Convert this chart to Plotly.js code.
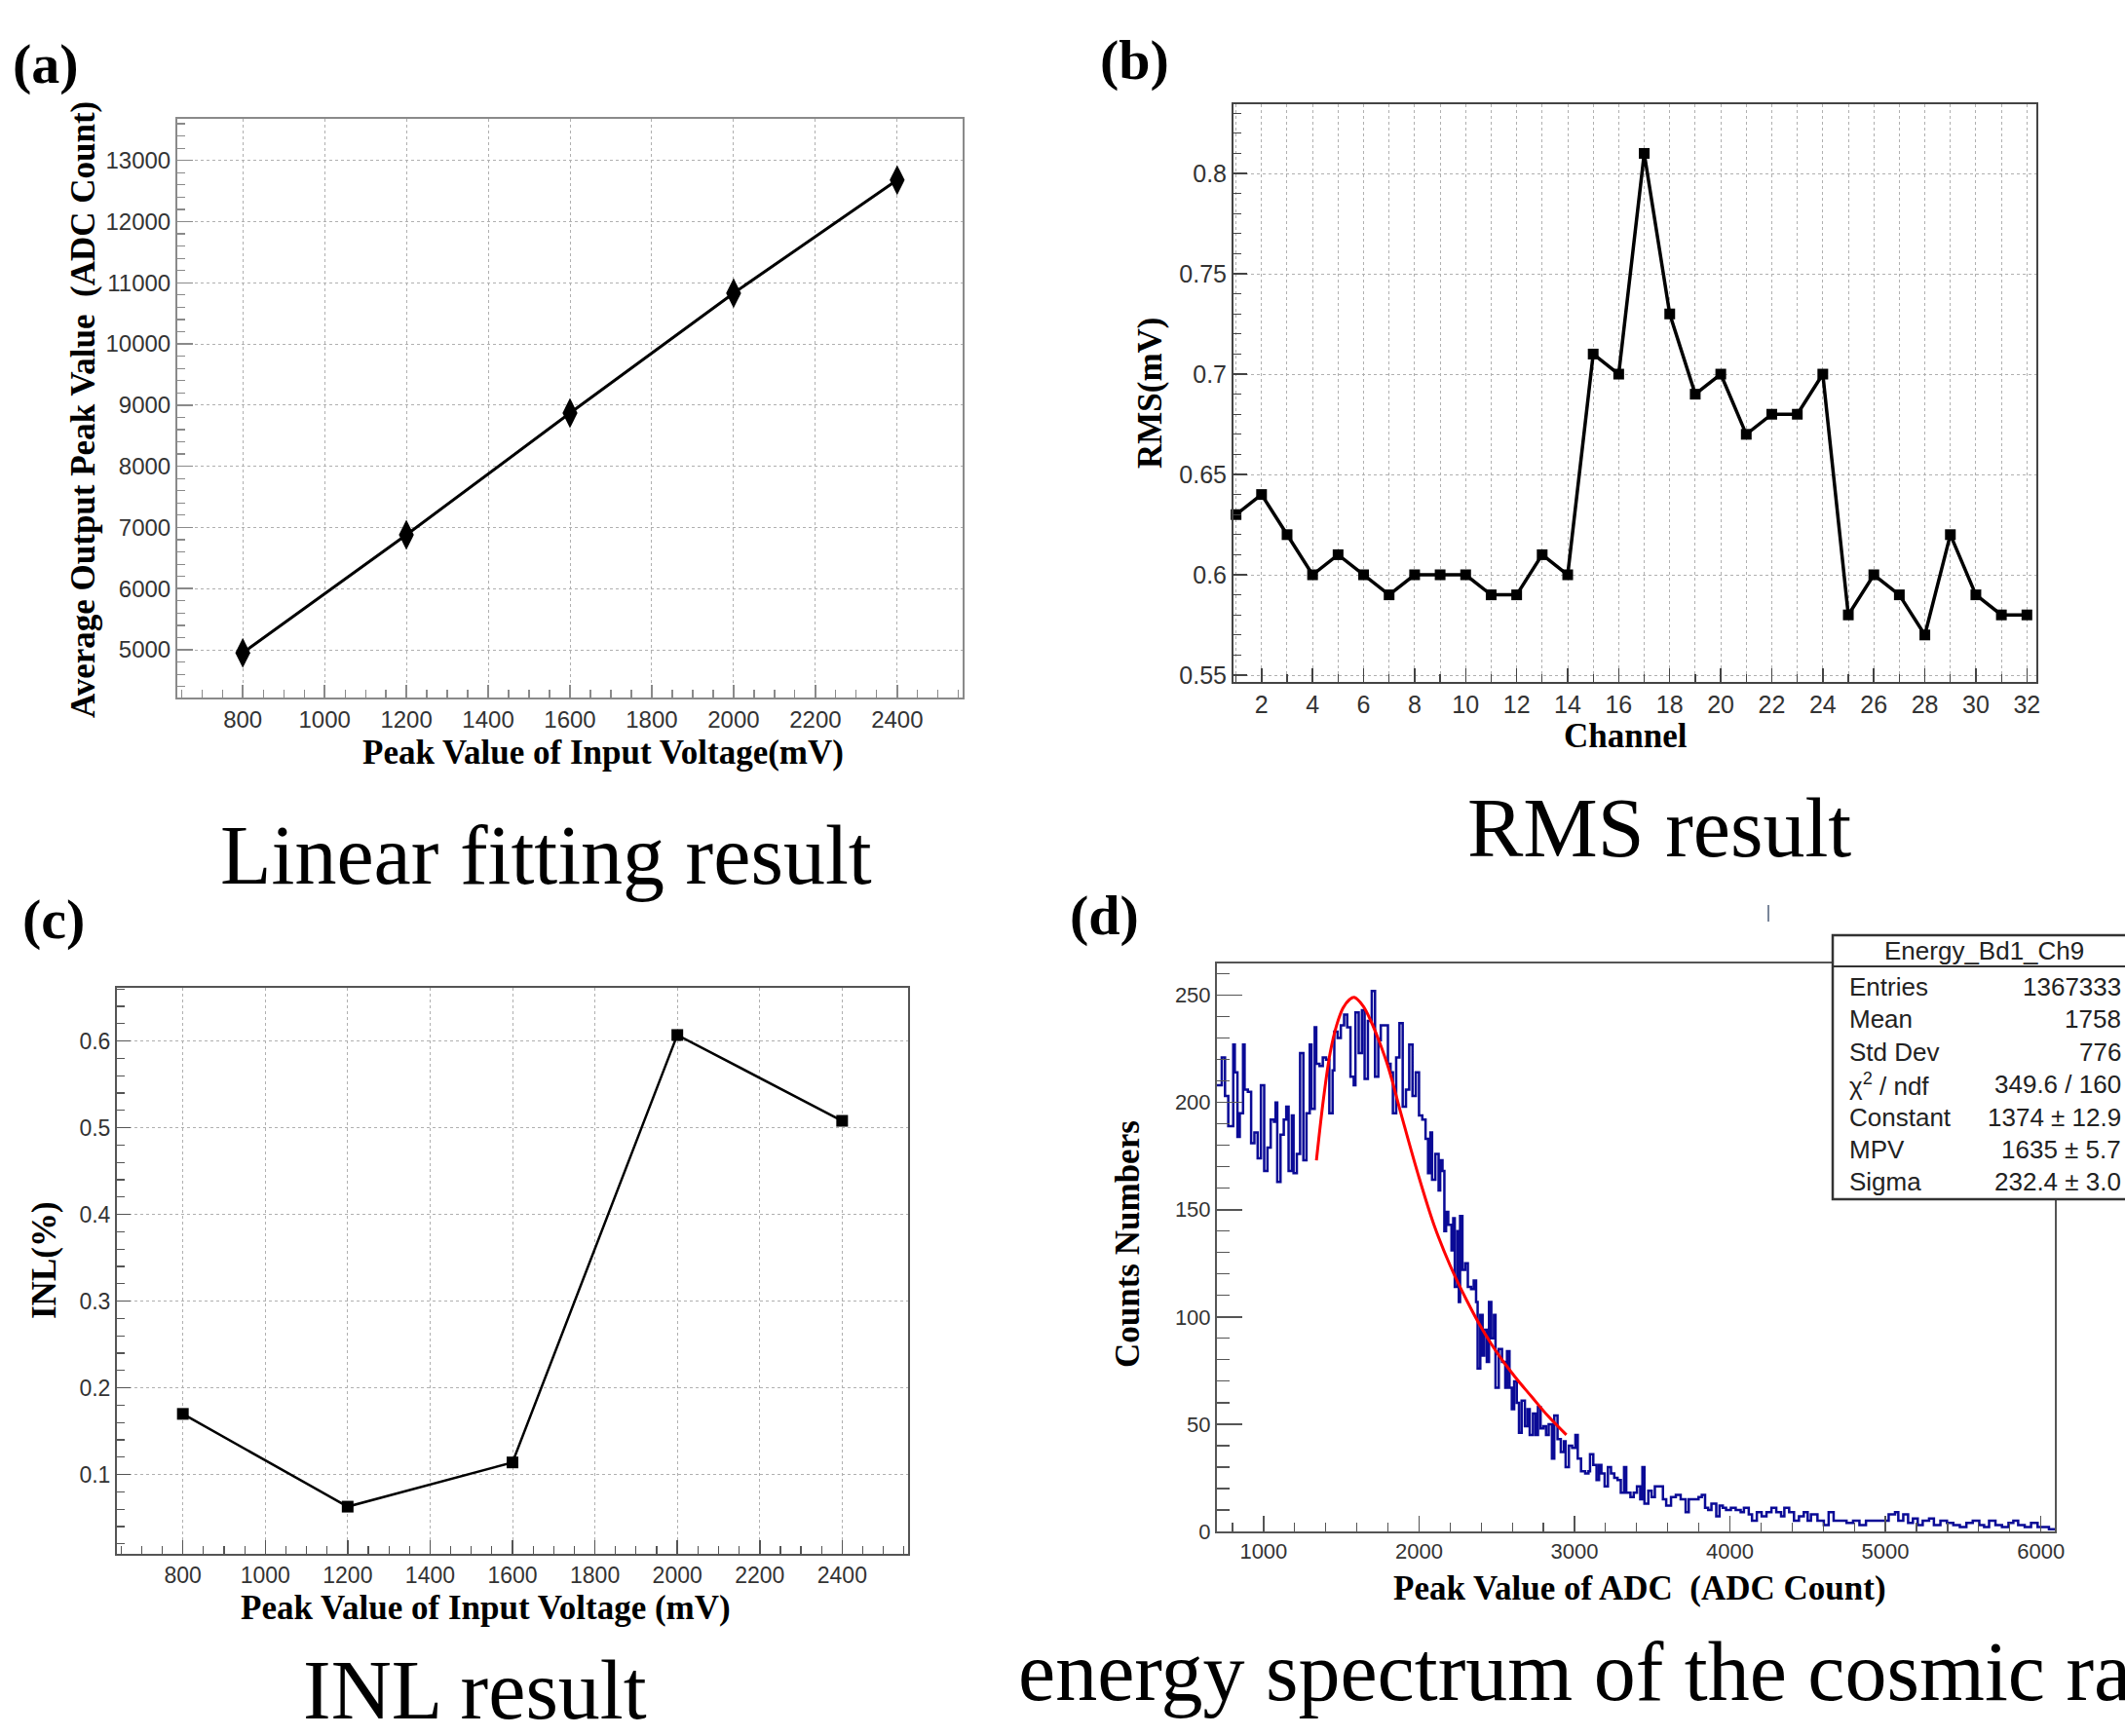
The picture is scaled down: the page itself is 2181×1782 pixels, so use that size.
<!DOCTYPE html>
<html><head><meta charset="utf-8">
<script src="https://cdn.plot.ly/plotly-3.0.1.min.js"></script>
<style>html,body{margin:0;padding:0;background:#fff;}#chart{width:2181px;height:1782px;}</style>
</head><body><div id="chart"></div>
<script>
// ---------- (a) Linear fitting ----------
const linVoltage = [800, 1200, 1600, 2000, 2400];
const linPeak = [4950, 6880, 8870, 10830, 12680];
const linTicksX = [800, 1000, 1200, 1400, 1600, 1800, 2000, 2200, 2400];
const linTickTextX = ['800','1000','1200','1400','1600','1800','2000','2200','2400'];
const linTicksY = [5000, 6000, 7000, 8000, 9000, 10000, 11000, 12000, 13000];
const linTickTextY = ['5000','6000','7000','8000','9000','10000','11000','12000','13000'];

// ---------- (b) RMS ----------
const rmsChannel = [1,2,3,4,5,6,7,8,9,10,11,12,13,14,15,16,17,18,19,20,21,22,23,24,25,26,27,28,29,30,31,32];
const rmsValue = [0.63,0.64,0.62,0.60,0.61,0.60,0.59,0.60,0.60,0.60,0.59,0.59,0.61,0.60,0.71,0.70,0.81,0.73,0.69,0.70,0.67,0.68,0.68,0.70,0.58,0.60,0.59,0.57,0.62,0.59,0.58,0.58];
const rmsTicksX = [2,4,6,8,10,12,14,16,18,20,22,24,26,28,30,32];
const rmsTickTextX = ['2','4','6','8','10','12','14','16','18','20','22','24','26','28','30','32'];
const rmsTicksY = [0.55, 0.6, 0.65, 0.7, 0.75, 0.8];
const rmsTickTextY = ['0.55','0.6','0.65','0.7','0.75','0.8'];

// ---------- (c) INL ----------
const inlVoltage = [800, 1200, 1600, 2000, 2400];
const inlValue = [0.170, 0.063, 0.114, 0.607, 0.508];
const inlTicksX = [800, 1000, 1200, 1400, 1600, 1800, 2000, 2200, 2400];
const inlTickTextX = ['800','1000','1200','1400','1600','1800','2000','2200','2400'];
const inlTicksY = [0.1, 0.2, 0.3, 0.4, 0.5, 0.6];
const inlTickTextY = ['0.1','0.2','0.3','0.4','0.5','0.6'];

// ---------- (d) Energy spectrum ----------
const specBinLeft = [700,731,752,773,805,815,832,847,868,878,899,920,941,962,983,1004,1025,1046,1067,1077,1088,1109,1130,1146,1161,1182,1193,1214,1235,1256,1276,1297,1308,1329,1339,1360,1381,1402,1423,1444,1455,1476,1497,1518,1538,1559,1580,1591,1612,1633,1650,1671,1696,1717,1738,1754,1775,1800,1817,1832,1853,1874,1895,1916,1937,1958,1979,2000,2021,2042,
2058,2073,2084,2105,2126,2136,2151,2163,2174,2188,2209,2220,2230,2247,2256,2264,2279,2297,2314,2335,2352,2367,2377,2394,2409,2419,2436,2450,2465,2482,2492,2513,2534,2555,2566,2582,2597,2612,2629,2643,2660,2681,2698,2712,2733,2750,2765,2782,2800,2817,2834,2855,2870,2891,2912,2932,2943,2964,2985,
3006,3021,3042,3069,3090,3100,3121,3142,3158,3173,3194,3215,3235,3256,3277,3298,3319,3333,3360,3381,3402,3423,3437,3450,3475,3496,3517,3548,3569,3590,3621,3652,3683,3715,3735,3767,3798,3819,3840,3860,3881,3912,3933,3954,3975,4006,4037,4069,4090,4121,4142,4173,4204,4235,4267,4298,4329,4350,4381,4412,4444,4475,
4500,4521,4563,4604,4635,4667,4708,4750,4792,4833,4875,4937,4979,5021,5062,5083,5115,5146,5177,5208,5240,5281,5312,5354,5396,5437,5479,5521,5562,5604,5635,5667,5708,5750,5792,5823,5854,5896,5937,5979,6021,6052];
const specCounts = [208,221,203,189,227,214,184,195,227,206,205,181,186,174,208,168,179,192,191,200,163,185,192,198,168,194,167,176,223,173,195,227,197,235,218,217,221,220,195,215,233,230,236,241,235,212,208,242,223,243,211,238,252,212,229,236,236,218,214,195,221,237,198,206,227,203,214,194,192,183,
167,186,164,176,159,173,168,140,149,143,131,146,114,140,107,147,122,125,114,113,117,107,76,101,82,94,79,107,90,101,67,85,79,67,84,67,57,70,60,46,61,49,57,45,55,45,58,48,49,45,50,34,54,43,37,42,30,40,39,
45,34,28,27,28,36,31,24,31,27,21,30,27,25,24,18,30,18,16,18,21,15,30,13,19,16,21,21,15,12,16,17,15,9,15,15,16,17,11,10,13,7,12,11,10,11,10,9,11,8,5,9,7,9,11,9,7,11,9,5,7,9,
5,8,5,3,9,5,5,4,5,3,5,5,5,8,9,5,8,4,6,3,5,6,3,5,4,3,2,4,5,3,2,5,3,2,4,5,3,2,4,2,2,1];
const specRightEdge = 6090;
const fitX = [1340,1386,1428,1470,1511,1553,1583,1640,1690,1741,1804,1887,1992,2096,2200,2305,2409,2514,2618,2722,2827,2948];
const fitY = [173,202,223,236,244,248,249,245,238,229,216,194,167,143,124,108,94,82,72,63,54,45];
const specTicksX = [1000, 2000, 3000, 4000, 5000, 6000];
const specTickTextX = ['1000','2000','3000','4000','5000','6000'];
const specTicksY = [0, 50, 100, 150, 200, 250];
const specTickTextY = ['0','50','100','150','200','250'];
const statsTitle = 'Energy_Bd1_Ch9';
const statsLabels = ['Entries', 'Mean', 'Std Dev', '\u03c7<sup>2</sup> / ndf', 'Constant', 'MPV', 'Sigma'];
const statsValues = ['1367333', '1758', '776', '349.6 / 160', '1374 \u00b1 12.9', '1635 \u00b1 5.7', '232.4 \u00b1 3.0'];

// ---------- layout helpers ----------
const W = 2181, H = 1782;
const px = x => x / W;
const py = y => 1 - y / H;
const SERIF = 'Liberation Serif, Times New Roman, serif';
const SANS = 'Liberation Sans, Arial, sans-serif';

function axis(o) {
  return {
    showline: true, mirror: true, linecolor: o.lc || '#555', linewidth: 2,
    ticks: 'inside', ticklen: o.tl || 14, tickwidth: 1.5, tickcolor: o.lc || '#555',
    zeroline: false, showgrid: !!o.grid, gridcolor: '#b0b0b0', griddash: 'dot', gridwidth: 1,
    tickfont: {family: SANS, size: o.fs || 23, color: '#333'},
    domain: o.domain, range: o.range, anchor: o.anchor, fixedrange: true,
    tickmode: 'array', tickvals: o.tickvals, ticktext: o.ticktext,
    minor: {tickmode: 'linear', tick0: o.m0 || 0, dtick: o.md, ticks: 'inside', ticklen: o.mtl || 8,
            tickwidth: 1.2, tickcolor: o.lc || '#555', showgrid: !!o.mgrid,
            gridcolor: '#b0b0b0', griddash: 'dot', gridwidth: 1}
  };
}

const traces = [
  {x: linVoltage, y: linPeak, xaxis: 'x', yaxis: 'y', mode: 'lines+markers',
   line: {color: '#000', width: 3}, marker: {symbol: 'diamond-tall', size: 22, color: '#000'}, cliponaxis: false},
  {x: rmsChannel, y: rmsValue, xaxis: 'x2', yaxis: 'y2', mode: 'lines+markers',
   line: {color: '#000', width: 3.5}, marker: {symbol: 'square', size: 11, color: '#000'}, cliponaxis: false},
  {x: inlVoltage, y: inlValue, xaxis: 'x3', yaxis: 'y3', mode: 'lines+markers',
   line: {color: '#000', width: 2.5}, marker: {symbol: 'square', size: 12, color: '#000'}, cliponaxis: false},
  {x: specBinLeft.concat([specRightEdge]), y: specCounts.concat([specCounts[specCounts.length - 1]]),
   xaxis: 'x4', yaxis: 'y4', mode: 'lines', line: {color: '#0a0a96', width: 2.5, shape: 'hv'}},
  {x: fitX, y: fitY, xaxis: 'x4', yaxis: 'y4', mode: 'lines', line: {color: '#ff0000', width: 3, shape: 'spline'}}
];

const ann = [];
function text(t, x, y, o) {
  ann.push(Object.assign({text: t, x: px(x), y: py(y), xref: 'paper', yref: 'paper', showarrow: false,
    xanchor: 'center', yanchor: 'middle', font: {family: SERIF, size: 35, color: '#000', weight: 700}}, o || {}));
}
const lblFont = {family: SERIF, size: 58, color: '#000', weight: 700};
text('(a)', 11, 65, {xanchor: 'left', font: lblFont});
text('(b)', 1127, 61, {xanchor: 'left', font: lblFont});
text('(c)', 21, 943, {xanchor: 'left', font: lblFont});
text('(d)', 1096, 939, {xanchor: 'left', font: lblFont});
const capFont = {family: SERIF, size: 86, color: '#000', weight: 400};
text('Linear fitting result', 560, 878, {font: capFont});
text('RMS result', 1703, 850, {font: capFont});
text('INL result', 487, 1735, {font: capFont});
text('energy spectrum of the cosmic ray', 1043, 1716, {xanchor: 'left', font: capFont});
text('Average Output Peak Value  (ADC Count)', 86, 421, {textangle: -90});
text('Peak Value of Input Voltage(mV)', 619, 772);
text('RMS(mV)', 1180, 403, {textangle: -90});
text('Channel', 1668, 755);
text('INL(%)', 45, 1294, {textangle: -90});
text('Peak Value of Input Voltage (mV)', 498, 1650);
text('Counts Numbers', 1157, 1277, {textangle: -90});
text('Peak Value of ADC  (ADC Count)', 1683, 1630);
const statFont = {family: SANS, size: 26, color: '#222', weight: 400};
text(statsTitle, 2036, 976, {font: statFont});
const rowY0 = 1013, rowDy = 33.4;
statsLabels.forEach((l, i) => text(l, 1896, rowY0 + i * rowDy, {xanchor: 'left', font: statFont}));
statsValues.forEach((v, i) => text(v, 2179, rowY0 + i * rowDy, {xanchor: 'right', font: statFont}));

const shapes = [
  {type: 'rect', xref: 'paper', yref: 'paper', x0: px(1881), x1: px(2210), y0: py(1231), y1: py(960),
   fillcolor: '#fff', line: {color: '#333', width: 2.5}, layer: 'above'},
  {type: 'line', xref: 'paper', yref: 'paper', x0: px(1881), x1: px(2210), y0: py(992), y1: py(992),
   line: {color: '#333', width: 2}, layer: 'above'},
  {type: 'line', xref: 'paper', yref: 'paper', x0: px(1815), x1: px(1815), y0: py(929), y1: py(946),
   line: {color: '#7a869a', width: 2}, layer: 'above'}
];

const layout = {
  width: W, height: H, margin: {l: 0, r: 0, t: 0, b: 0}, paper_bgcolor: '#fff', plot_bgcolor: '#fff',
  showlegend: false, font: {family: SANS},
  xaxis: axis({domain: [px(182), px(988)], range: [640, 2560], anchor: 'y', grid: true, lc: '#8a8a8a',
    tickvals: linTicksX, ticktext: linTickTextX, md: 50, fs: 24, tl: 13}),
  yaxis: axis({domain: [py(716), py(122)], range: [4220, 13680], anchor: 'x', grid: true, lc: '#8a8a8a',
    tickvals: linTicksY, ticktext: linTickTextY, md: 200, fs: 24, tl: 16}),
  xaxis2: axis({domain: [px(1266), px(2090)], range: [0.9, 32.37], anchor: 'y2', grid: true, lc: '#444',
    tickvals: rmsTicksX, ticktext: rmsTickTextX, md: 1, mgrid: true, fs: 25, tl: 14}),
  yaxis2: axis({domain: [py(700), py(107)], range: [0.5466, 0.8345], anchor: 'x2', grid: true, lc: '#444',
    tickvals: rmsTicksY, ticktext: rmsTickTextY, md: 0.01, m0: 0.55, fs: 25, tl: 14}),
  xaxis3: axis({domain: [px(120), px(932)], range: [640, 2560], anchor: 'y3', grid: true, lc: '#555',
    tickvals: inlTicksX, ticktext: inlTickTextX, md: 50, fs: 23, tl: 14}),
  yaxis3: axis({domain: [py(1595), py(1014)], range: [0.0086, 0.6614], anchor: 'x3', grid: true, lc: '#555',
    tickvals: inlTicksY, ticktext: inlTickTextY, md: 0.02, fs: 23, tl: 14}),
  xaxis4: axis({domain: [px(1249), px(2109)], range: [700, 6090], anchor: 'y4', lc: '#555',
    tickvals: specTicksX, ticktext: specTickTextX, md: 200, fs: 22, tl: 16, mtl: 9}),
  yaxis4: axis({domain: [py(1572), py(989)], range: [0, 264.8], anchor: 'x4', lc: '#555',
    tickvals: specTicksY, ticktext: specTickTextY, md: 10, fs: 22, tl: 26, mtl: 13}),
  annotations: ann, shapes: shapes
};

Plotly.newPlot('chart', traces, layout, {staticPlot: true, displayModeBar: false});
</script></body></html>
